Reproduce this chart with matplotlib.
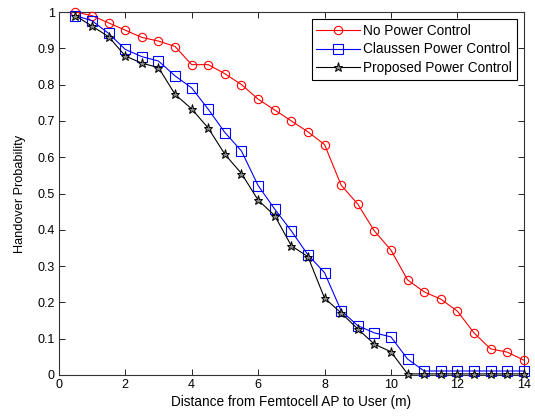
"""Handover probability vs. distance from femtocell AP."""

import matplotlib

matplotlib.use("Agg")
import matplotlib.pyplot as plt  # noqa: E402

distance = [0.5, 1, 1.5, 2, 2.5, 3, 3.5, 4, 4.5, 5, 5.5, 6, 6.5, 7,
            7.5, 8, 8.5, 9, 9.5, 10, 10.5, 11, 11.5, 12, 12.5, 13, 13.5, 14]

no_pc = [1.0, 0.99, 0.97, 0.95, 0.93, 0.92, 0.905, 0.855, 0.855, 0.83,
         0.80, 0.76, 0.73, 0.70, 0.67, 0.635, 0.523, 0.471, 0.397, 0.344,
         0.262, 0.229, 0.209, 0.176, 0.116, 0.072, 0.063, 0.041]

claussen_pc = [0.99, 0.976, 0.941, 0.897, 0.877, 0.865, 0.824, 0.791, 0.732,
               0.668, 0.617, 0.522, 0.457, 0.397, 0.331, 0.282, 0.177, 0.136,
               0.116, 0.105, 0.044, 0.011, 0.011, 0.011, 0.011, 0.011, 0.011,
               0.011]

proposed_pc = [0.99, 0.961, 0.932, 0.879, 0.859, 0.847, 0.773, 0.733, 0.680,
               0.608, 0.555, 0.482, 0.439, 0.356, 0.326, 0.212, 0.171, 0.127,
               0.085, 0.064, 0.003, 0.003, 0.003, 0.003, 0.003, 0.003, 0.003,
               0.003]

x_ticks = [0, 2, 4, 6, 8, 10, 12, 14]
y_ticks = [0, 0.1, 0.2, 0.3, 0.4, 0.5, 0.6, 0.7, 0.8, 0.9, 1]
y_tick_labels = ["0", "0.1", "0.2", "0.3", "0.4", "0.5", "0.6", "0.7",
                 "0.8", "0.9", "1"]


def main():
    plt.rcParams["font.family"] = ["Liberation Sans", "DejaVu Sans"]
    plt.rcParams["font.size"] = 9

    fig = plt.figure(figsize=(5.35, 4.16), dpi=100)
    ax = fig.add_axes([0.110, 0.0986, 0.869, 0.8725])

    ax.plot(distance, no_pc, color="#ff0000", linewidth=0.8, marker="o",
            markersize=6, markerfacecolor="none", markeredgewidth=0.8,
            label="No Power Control", clip_on=False, zorder=3)
    ax.plot(distance, claussen_pc, color="#0000ff", linewidth=0.8, marker="s",
            markersize=6.5, markerfacecolor="none", markeredgewidth=0.8,
            label="Claussen Power Control", clip_on=False, zorder=3)
    ax.plot(distance, proposed_pc, color="black", linewidth=0.8, marker="*",
            markersize=6.5, markerfacecolor="#888888", markeredgewidth=0.7,
            label="Proposed Power Control", clip_on=False, zorder=3)

    ax.set_xlim(0, 14)
    ax.set_ylim(0, 1)
    ax.set_xticks(x_ticks)
    ax.set_xticklabels([str(t) for t in x_ticks])
    ax.set_yticks(y_ticks)
    ax.set_yticklabels(y_tick_labels)
    ax.tick_params(direction="in", top=True, right=True, length=4,
                   width=0.6, pad=3, labelsize=9)
    for s in ax.spines.values():
        s.set_linewidth(0.8)
        s.set_color("#333333")

    ax.set_xlabel("Distance from Femtocell AP to User (m)", fontsize=9.8,
                  labelpad=3)
    ax.set_ylabel("Handover Probability", fontsize=9.2, labelpad=8)

    leg = ax.legend(loc="upper right", fontsize=9.8, frameon=True,
                    fancybox=False, edgecolor="black", framealpha=1,
                    borderaxespad=0.5, handlelength=3.2, labelspacing=0.35,
                    borderpad=0.35, handletextpad=0.25)
    leg.get_frame().set_linewidth(0.8)
    leg.set_zorder(5)

    fig.savefig("out.png", dpi=100)


if __name__ == "__main__":
    main()
